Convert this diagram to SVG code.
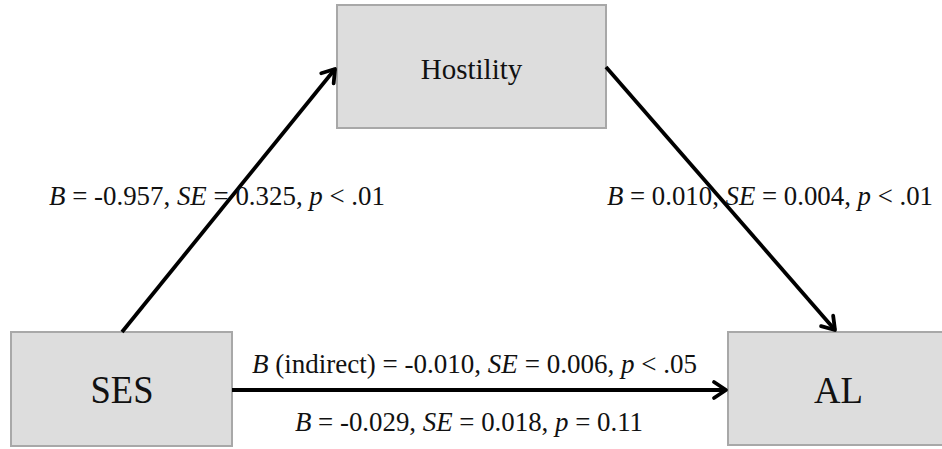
<svg xmlns="http://www.w3.org/2000/svg" width="942" height="449" viewBox="0 0 942 449">
<style>
.box{fill:#dddddd;stroke:#a8a8a8;stroke-width:2}
.t{font-family:"Liberation Serif","Times New Roman",serif;fill:#111}
.lab{font-family:"Liberation Serif","Times New Roman",serif;font-size:26.5px;fill:#111}
.conn{stroke:#000;stroke-width:3.8;fill:none}
</style>
<defs>
<marker id="ah" markerUnits="userSpaceOnUse" viewBox="-16 -12 20 24" markerWidth="20" markerHeight="24" refX="0" refY="0" orient="auto">
<path d="M-12,-8 L0,0 L-12,8" fill="none" stroke="#000" stroke-width="3.8" stroke-linecap="round" stroke-linejoin="round"/>
</marker>
</defs>
<g id="node-hostility">
<rect class="box" x="337" y="5" width="269" height="123"/>
<text class="t" x="471.5" y="79" font-size="29" text-anchor="middle">Hostility</text>
</g>
<g id="node-ses">
<rect class="box" x="11" y="332" width="221" height="114"/>
<text class="t" x="122" y="403" font-size="39" text-anchor="middle" textLength="63" lengthAdjust="spacingAndGlyphs">SES</text>
</g>
<g id="node-al">
<rect class="box" x="728" y="332" width="222" height="113"/>
<text class="t" x="838.5" y="403" font-size="37" text-anchor="middle" textLength="49" lengthAdjust="spacingAndGlyphs">AL</text>
</g>
<g id="connectors">
<line class="conn" x1="122" y1="332" x2="335" y2="69" marker-end="url(#ah)"/>
<line class="conn" x1="606" y1="67" x2="835" y2="330" marker-end="url(#ah)"/>
<line class="conn" x1="232" y1="390" x2="726" y2="390" marker-end="url(#ah)"/>
</g>
<g id="labels">
<text class="lab" x="49" y="205" textLength="336" lengthAdjust="spacingAndGlyphs"><tspan font-style="italic">B</tspan> = -0.957, <tspan font-style="italic">SE</tspan> = 0.325, <tspan font-style="italic">p</tspan> &lt; .01</text>
<text class="lab" x="607" y="205" textLength="326" lengthAdjust="spacingAndGlyphs"><tspan font-style="italic">B</tspan> = 0.010, <tspan font-style="italic">SE</tspan> = 0.004, <tspan font-style="italic">p</tspan> &lt; .01</text>
<text class="lab" x="252" y="373" textLength="445" lengthAdjust="spacingAndGlyphs"><tspan font-style="italic">B</tspan> (indirect) = -0.010, <tspan font-style="italic">SE</tspan> = 0.006, <tspan font-style="italic">p</tspan> &lt; .05</text>
<text class="lab" x="295" y="431" textLength="348" lengthAdjust="spacingAndGlyphs"><tspan font-style="italic">B</tspan> = -0.029, <tspan font-style="italic">SE</tspan> = 0.018, <tspan font-style="italic">p</tspan> = 0.11</text>
</g>
</svg>
